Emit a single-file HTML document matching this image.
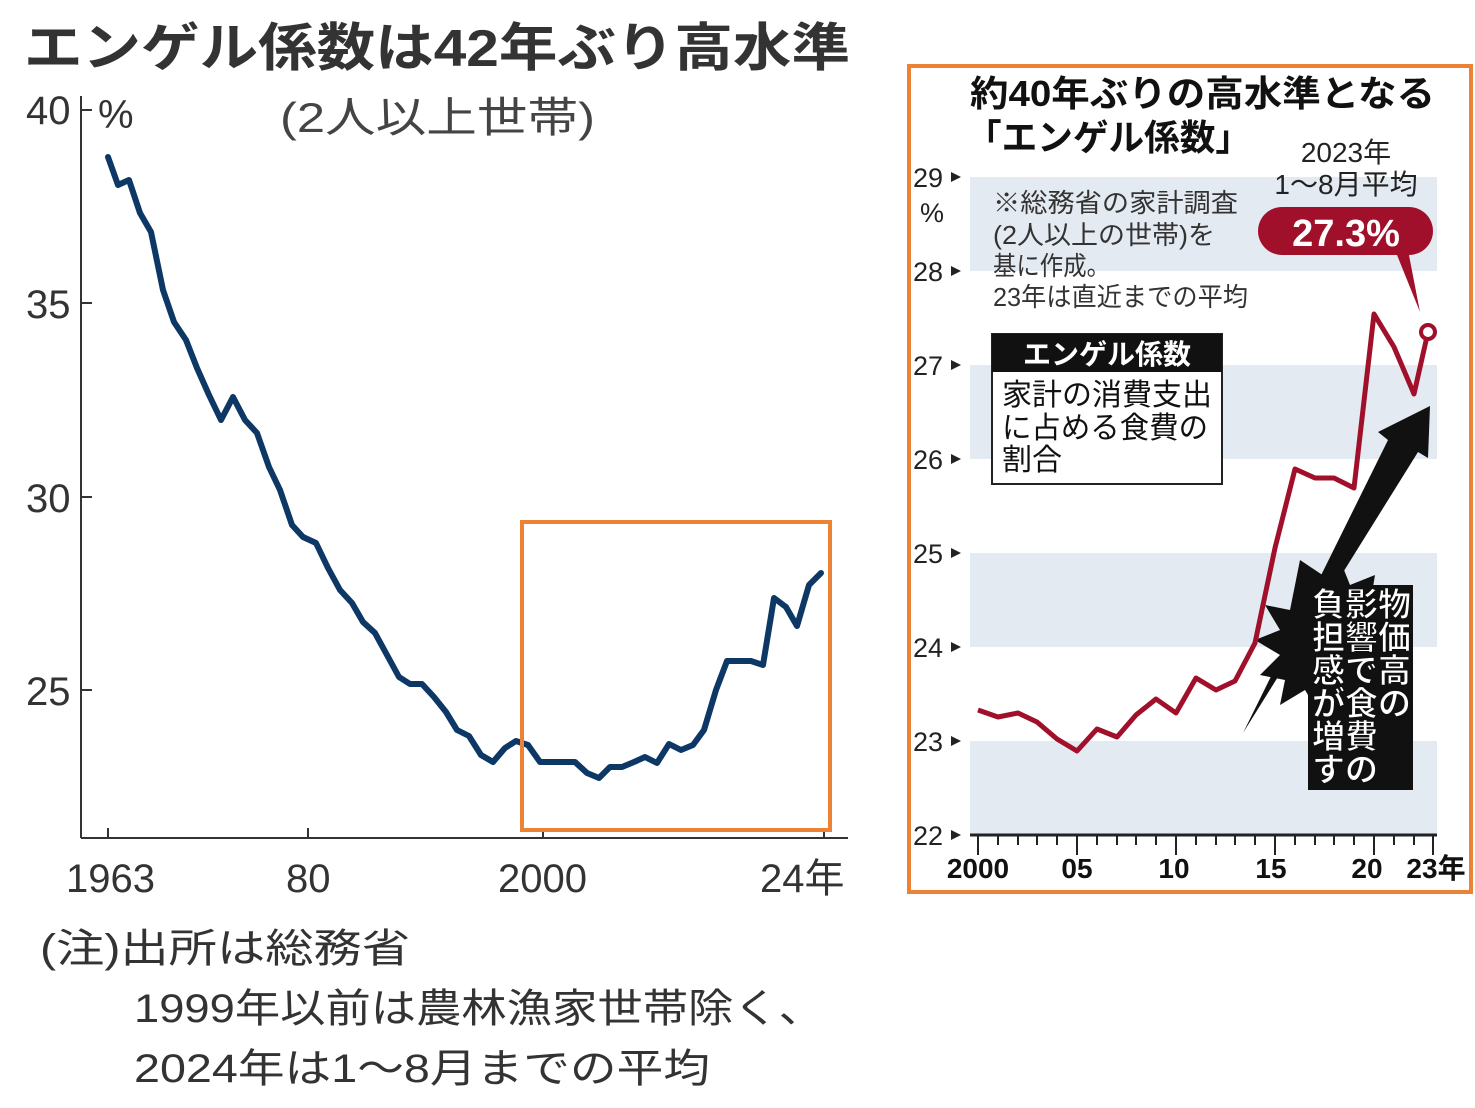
<!DOCTYPE html>
<html><head><meta charset="utf-8"><style>
body{margin:0;background:#fff;}
svg{display:block;}
</style></head><body>
<svg width="1475" height="1108" viewBox="0 0 1475 1108" xmlns="http://www.w3.org/2000/svg" font-family="Liberation Sans, Noto Sans CJK JP, sans-serif">
<rect width="1475" height="1108" fill="#fff"/>
<!-- LEFT -->
<text x="24" y="66" font-size="52" font-weight="bold" fill="#333" textLength="826" lengthAdjust="spacingAndGlyphs">エンゲル係数は42年ぶり高水準</text>
<text x="280" y="132" font-size="42" fill="#444" textLength="315" lengthAdjust="spacingAndGlyphs">(2人以上世帯)</text>
<g stroke="#333" stroke-width="2" fill="none">
<line x1="81" y1="96" x2="81" y2="838"/><line x1="81" y1="838" x2="848" y2="838"/>
<line x1="81" y1="110" x2="92" y2="110"/><line x1="81" y1="303" x2="92" y2="303"/><line x1="81" y1="497" x2="92" y2="497"/><line x1="81" y1="690" x2="92" y2="690"/>
<line x1="108" y1="828" x2="108" y2="838"/><line x1="308" y1="828" x2="308" y2="838"/><line x1="543" y1="828" x2="543" y2="838"/><line x1="824" y1="828" x2="824" y2="838"/>
</g>
<g font-size="40" fill="#333">
<text x="26" y="124">40</text><text x="98" y="128">%</text>
<text x="26" y="318">35</text><text x="26" y="512">30</text><text x="26" y="705">25</text>
<text x="66" y="892">1963</text><text x="286" y="892">80</text><text x="498" y="892">2000</text><text x="760" y="892">24年</text>
</g>
<polyline fill="none" stroke="#0d3866" stroke-width="6" stroke-linejoin="round" stroke-linecap="round" points="108,157 118,185 129,180 140,213 151,232 163,290 174,322 186,340 197,368 209,395 221,420 233,397 245,420 257,433 269,467 280,490 292,525 303,537 316,543 328,568 340,590 352,603 363,622 375,633 387,655 399,677 410,684 422,684 434,697 446,712 457,730 469,736 481,755 493,762 505,748 516,741 528,745 540,762 551,762 563,762 575,762 587,773 599,778 610,767 622,767 634,762 645,757 657,763 669,744 681,750 693,745 704,730 716,690 727,661 739,661 751,661 763,665 774,598 786,607 797,626 809,585 821,573"/>
<rect x="522" y="522" width="308" height="308" fill="none" stroke="#ec8236" stroke-width="4"/>
<g font-size="40" fill="#333">
<text x="40" y="962" textLength="370" lengthAdjust="spacingAndGlyphs">(注)出所は総務省</text>
<text x="134" y="1022" textLength="690" lengthAdjust="spacingAndGlyphs">1999年以前は農林漁家世帯除く、</text>
<text x="134" y="1082" textLength="576" lengthAdjust="spacingAndGlyphs">2024年は1～8月までの平均</text>
</g>
<!-- RIGHT -->
<rect x="909" y="66" width="562" height="826" fill="#fff" stroke="#ec8236" stroke-width="4"/>
<g fill="#e4eaf1">
<rect x="970" y="177" width="467" height="94"/><rect x="970" y="365" width="467" height="94"/><rect x="970" y="553" width="467" height="94"/><rect x="970" y="741" width="467" height="94"/>
</g>
<text x="970" y="106" font-size="36" font-weight="bold" fill="#111" textLength="465" lengthAdjust="spacingAndGlyphs">約40年ぶりの高水準となる</text>
<text x="966" y="150" font-size="36" font-weight="bold" fill="#111" textLength="285" lengthAdjust="spacingAndGlyphs">「エンゲル係数」</text>
<g font-size="27" fill="#222">
<text x="913" y="187">29</text><text x="920" y="222">%</text><text x="913" y="281">28</text><text x="913" y="375">27</text><text x="913" y="469">26</text><text x="913" y="563">25</text><text x="913" y="657">24</text><text x="913" y="751">23</text><text x="913" y="845">22</text>
</g>
<g fill="#222">
<path d="M951,172 l10,5 l-10,5z"/><path d="M951,266 l10,5 l-10,5z"/><path d="M951,360 l10,5 l-10,5z"/><path d="M951,454 l10,5 l-10,5z"/><path d="M951,548 l10,5 l-10,5z"/><path d="M951,642 l10,5 l-10,5z"/><path d="M951,736 l10,5 l-10,5z"/><path d="M951,830 l10,5 l-10,5z"/>
</g>
<line x1="970" y1="835" x2="1437" y2="835" stroke="#222" stroke-width="3"/>
<g stroke="#222" stroke-width="2">
<line x1="978" y1="835" x2="978" y2="855"/><line x1="998" y1="835" x2="998" y2="845"/><line x1="1018" y1="835" x2="1018" y2="845"/><line x1="1037" y1="835" x2="1037" y2="845"/><line x1="1057" y1="835" x2="1057" y2="845"/><line x1="1077" y1="835" x2="1077" y2="855"/><line x1="1097" y1="835" x2="1097" y2="845"/><line x1="1117" y1="835" x2="1117" y2="845"/><line x1="1136" y1="835" x2="1136" y2="845"/><line x1="1156" y1="835" x2="1156" y2="845"/><line x1="1176" y1="835" x2="1176" y2="855"/><line x1="1196" y1="835" x2="1196" y2="845"/><line x1="1216" y1="835" x2="1216" y2="845"/><line x1="1235" y1="835" x2="1235" y2="845"/><line x1="1255" y1="835" x2="1255" y2="845"/><line x1="1275" y1="835" x2="1275" y2="855"/><line x1="1295" y1="835" x2="1295" y2="845"/><line x1="1315" y1="835" x2="1315" y2="845"/><line x1="1334" y1="835" x2="1334" y2="845"/><line x1="1354" y1="835" x2="1354" y2="845"/><line x1="1374" y1="835" x2="1374" y2="855"/><line x1="1394" y1="835" x2="1394" y2="845"/><line x1="1414" y1="835" x2="1414" y2="845"/><line x1="1433" y1="835" x2="1433" y2="855"/>
</g>
<g font-size="28" font-weight="bold" fill="#111" text-anchor="middle">
<text x="978" y="878">2000</text><text x="1077" y="878">05</text><text x="1174" y="878">10</text><text x="1271" y="878">15</text><text x="1367" y="878">20</text><text x="1436" y="878">23年</text>
</g>
<g font-size="26" fill="#333">
<text x="993" y="212" textLength="245" lengthAdjust="spacingAndGlyphs">※総務省の家計調査</text><text x="993" y="244" textLength="222" lengthAdjust="spacingAndGlyphs">(2人以上の世帯)を</text><text x="993" y="275" textLength="117" lengthAdjust="spacingAndGlyphs">基に作成。</text><text x="993" y="306" textLength="255" lengthAdjust="spacingAndGlyphs">23年は直近までの平均</text>
</g>
<rect x="992" y="334" width="230" height="150" fill="#fff" stroke="#222" stroke-width="2"/>
<rect x="992" y="334" width="230" height="38" fill="#111"/>
<text x="1107" y="364" font-size="28" font-weight="bold" fill="#fff" text-anchor="middle">エンゲル係数</text>
<g font-size="30" fill="#111"><text x="1002" y="405" textLength="210" lengthAdjust="spacingAndGlyphs">家計の消費支出</text><text x="1002" y="438" textLength="206" lengthAdjust="spacingAndGlyphs">に占める食費の</text><text x="1002" y="470" textLength="60" lengthAdjust="spacingAndGlyphs">割合</text></g>
<text x="1346" y="162" font-size="28" fill="#222" text-anchor="middle">2023年</text>
<text x="1346" y="194" font-size="28" fill="#222" text-anchor="middle">1～8月平均</text>
<rect x="1258" y="207" width="175" height="48" rx="24" fill="#a0102a"/>
<path d="M1395,250 L1420,312 L1408,250z" fill="#a0102a"/>
<text x="1346" y="246" font-size="38" font-weight="bold" fill="#fff" text-anchor="middle">27.3%</text>
<!-- arrow -->
<path d="M1243,733 L1388,440 L1378,432 L1430,406 L1428,458 L1418,452 z" fill="#111"/>
<path d="M1300,560 l30,20 l10,-20 l10,25 l25,-10 l-5,30 l25,5 l-20,20 l20,20 l-25,5 l10,25 l-30,-5 l0,30 l-20,-20 l-10,30 l-15,-25 l-25,15 l5,-25 l-25,-5 l20,-20 l-25,-15 l25,-10 l-15,-25 l25,5z" fill="#111"/>
<rect x="1308" y="585" width="105" height="205" fill="#111"/>
<g font-size="33" font-weight="bold" fill="#fff" stroke="#111" stroke-width="1">
<text x="1378" y="616">物</text><text x="1378" y="649">価</text><text x="1378" y="682">高</text><text x="1378" y="715">の</text>
<text x="1345" y="616">影</text><text x="1345" y="649">響</text><text x="1345" y="682">で</text><text x="1345" y="715">食</text><text x="1345" y="748">費</text><text x="1345" y="781">の</text>
<text x="1312" y="616">負</text><text x="1312" y="649">担</text><text x="1312" y="682">感</text><text x="1312" y="715">が</text><text x="1312" y="748">増</text><text x="1312" y="781">す</text>
</g>
<polyline fill="none" stroke="#a0102a" stroke-width="5" stroke-linejoin="round" points="978,710 998,717 1018,713 1037,722 1057,739 1077,751 1097,729 1117,737 1136,715 1156,699 1176,713 1196,678 1216,690 1235,681 1255,643 1275,548 1295,469 1315,478 1334,478 1354,488 1374,314 1394,347 1414,394 1428,332"/>
<circle cx="1428" cy="332" r="7" fill="#fff" stroke="#a0102a" stroke-width="4"/>
</svg>
</body></html>
